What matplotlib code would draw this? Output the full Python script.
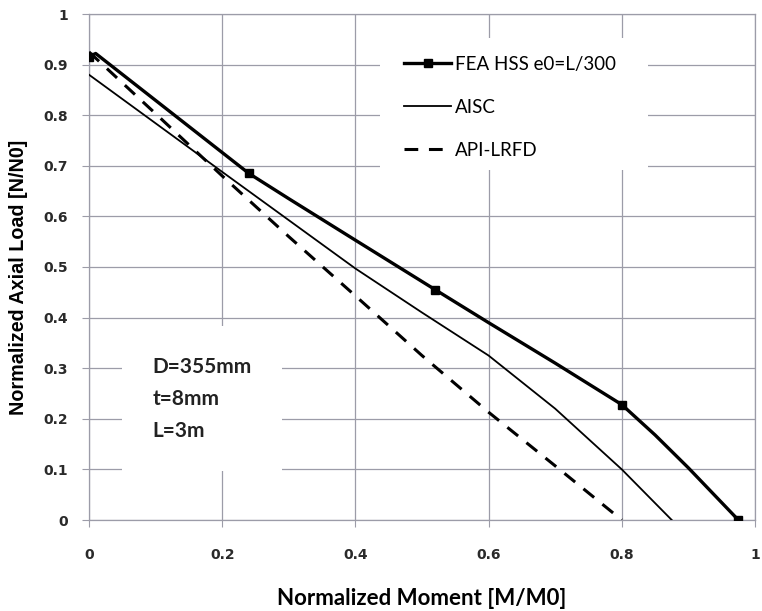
import matplotlib.pyplot as plt
from matplotlib.patches import Rectangle

# datos
fea_x = [0, 0.01, 0.24, 0.30, 0.40, 0.52, 0.60, 0.70, 0.80, 0.85, 0.90, 0.975]
fea_y = [0.915, 0.922, 0.685, 0.635, 0.553, 0.455, 0.39, 0.31, 0.228, 0.168, 0.103, 0.0]
fea_marcas = [0, 2, 5, 8, 11]

aisc_x = [0, 0.2, 0.4, 0.5, 0.6, 0.7, 0.75, 0.8, 0.875]
aisc_y = [0.88, 0.688, 0.497, 0.41, 0.325, 0.22, 0.16, 0.1, 0.0]

api_x = [0, 0.1, 0.2, 0.3, 0.4, 0.5, 0.6, 0.7, 0.8]
api_y = [0.925, 0.803, 0.68, 0.56, 0.443, 0.325, 0.213, 0.107, 0.0]

ticks = [0, 0.2, 0.4, 0.6, 0.8, 1]
ticks_lab = ["0", "0.2", "0.4", "0.6", "0.8", "1"]
yticks = [0, 0.1, 0.2, 0.3, 0.4, 0.5, 0.6, 0.7, 0.8, 0.9, 1]
yticks_lab = ["0", "0.1", "0.2", "0.3", "0.4", "0.5", "0.6", "0.7", "0.8", "0.9", "1"]

plt.rcParams['font.family'] = ['Lato', 'DejaVu Sans']
gris = "#9c9ca8"

fig = plt.figure(figsize=(7.62, 6.11), dpi=100)
ax = fig.add_axes([89/762, 1 - 520/611, 666/762, 506/611])

ax.plot(fea_x, fea_y, color="black", lw=2.4, marker="s", markersize=6,
        markevery=fea_marcas, label="FEA HSS e0=L/300", zorder=5)
ax.plot(aisc_x, aisc_y, color="black", lw=1.3, label="AISC", zorder=4)
ax.plot(api_x, api_y, color="black", lw=2.2, dashes=(4.5, 3.5), label="API-LRFD", zorder=4)

ax.set_xlim(0, 1)
ax.set_ylim(0, 1)
# numeros de los ejes en DejaVu para que tengan el ancho del original
ax.set_xticks(ticks)
ax.set_xticklabels(ticks_lab, fontsize=10, fontweight="bold", color="#2a2a2a",
                   family="DejaVu Sans")
ax.set_yticks(yticks)
ax.set_yticklabels(yticks_lab, fontsize=10, fontweight="bold", color="#2a2a2a",
                   family="DejaVu Sans")
ax.grid(True, color=gris, lw=0.9)
ax.set_axisbelow(True)
for s in ax.spines.values():
    s.set_color(gris)
    s.set_linewidth(0.9)
ax.tick_params(direction="out", length=5, color=gris)
ax.tick_params(axis="y", pad=10)
ax.tick_params(axis="x", pad=15)

ax.set_xlabel("Normalized Moment [M/M0]", fontsize=16, fontweight="bold")
ax.xaxis.set_label_coords(0.5, -0.135)
ax.set_ylabel("Normalized Axial Load [N/N0]", fontsize=14.2, fontweight="bold",
              family=["Liberation Sans", "DejaVu Sans"])
ax.yaxis.set_label_coords(-0.092, 0.48)

# fondo blanco de la leyenda que tapa la rejilla
ax.add_patch(Rectangle((0.437, 0.692), 0.402, 0.261, transform=ax.transAxes,
                       facecolor="white", edgecolor="none", zorder=1))

leg = ax.legend(loc="upper left", bbox_to_anchor=(0.445, 0.955), frameon=False,
                fontsize=13.5, handlelength=2.5, handletextpad=0.2,
                labelspacing=1.4, borderpad=0.5)

ax.text(0.095, 0.24, "D=355mm\nt=8mm\nL=3m", transform=ax.transAxes,
        fontsize=15, fontweight="bold", va="center", ha="left", linespacing=1.75,
        color="#222222",
        bbox=dict(facecolor="white", edgecolor="none", pad=22), zorder=3)

plt.savefig("out.png", dpi=100)
